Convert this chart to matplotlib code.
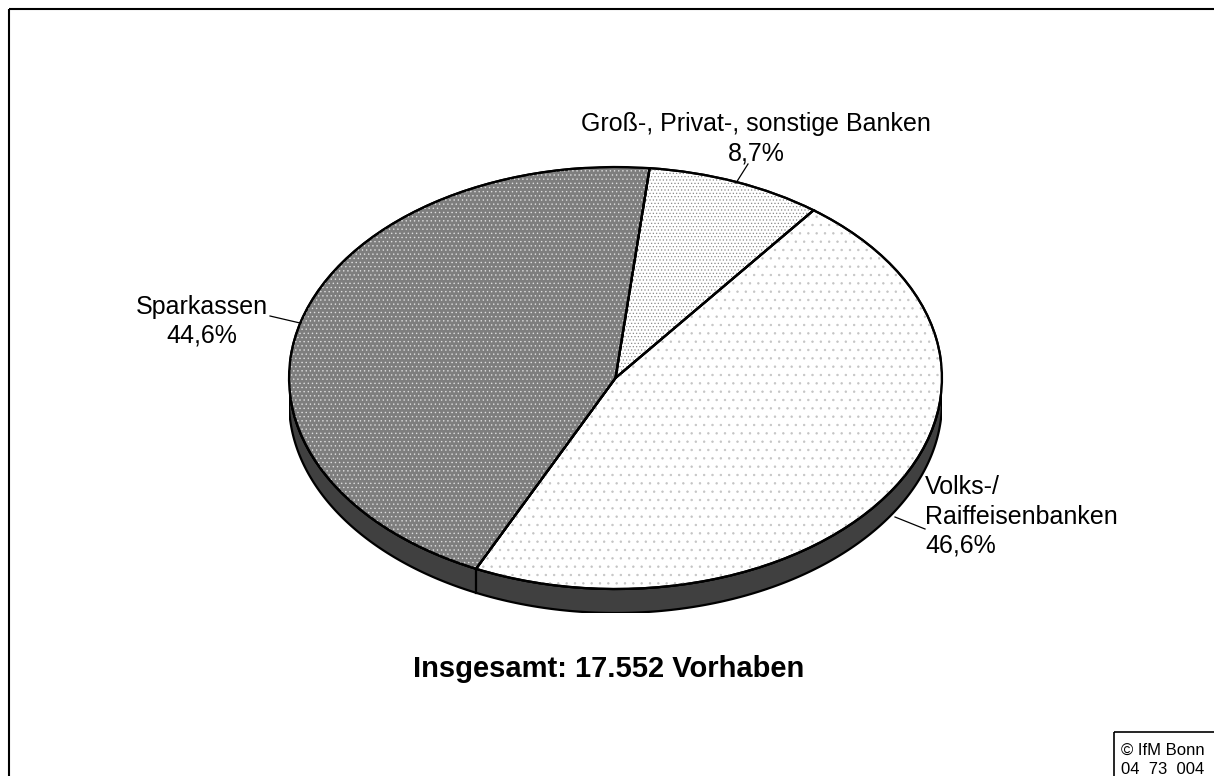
import numpy as np
import matplotlib
matplotlib.use("Agg")
import matplotlib.pyplot as plt
from matplotlib.patches import Polygon, Rectangle, Wedge

plt.rcParams['font.family'] = ['Liberation Sans', 'DejaVu Sans']
plt.rcParams['hatch.linewidth'] = 0.5

# ---- data ----
categories = ["Groß-, Privat-, sonstige Banken", "Volks-/\nRaiffeisenbanken", "Sparkassen"]
shares = [8.7, 46.6, 44.6]
share_labels = ["8,7%", "46,6%", "44,6%"]
title_text = "Insgesamt: 17.552 Vorhaben"
source_text = "© IfM Bonn\n04  73  004"

W, H = 1214, 776
fig = plt.figure(figsize=(W / 100, H / 100), dpi=100)

# pie geometry (pixels)
cx, cy, rx, ry, depth = 615.5, 378.0, 326.5, 211.0, 24.0
d = depth / ry

ax = fig.add_axes([(cx - rx) / W, (H - (cy + ry + depth)) / H, 2 * rx / W, (2 * ry + depth) / H])
ax.axis('off')

# side (visible front half)
t = np.linspace(np.pi, 2 * np.pi, 300)
top = np.column_stack([np.cos(t), np.sin(t)])
bot = np.column_stack([np.cos(t[::-1]), np.sin(t[::-1]) - d])
ax.add_patch(Polygon(np.vstack([top, bot]), closed=True, facecolor='#404040',
                     edgecolor='black', linewidth=1.6, zorder=1))

faces = ['white', 'white', '#7e7e7e']
hatch_cols = ['#8a8a8a', '#c4c4c4', '#dcdcdc']
hatches = ['.....', '..', '....']

wedges, _ = ax.pie(shares, startangle=84, counterclock=False, radius=1,
                   colors=faces, wedgeprops=dict(edgecolor='black', linewidth=1.6))
for w in wedges:
    w.set_zorder(2)
# hatch overlays
for w, hc, h in zip(wedges, hatch_cols, hatches):
    ax.add_patch(Wedge((0, 0), 1, w.theta1, w.theta2, facecolor='none',
                       edgecolor=hc, linewidth=0, hatch=h, zorder=3))
for w in wedges:
    ax.add_patch(Wedge((0, 0), 1, w.theta1, w.theta2, facecolor='none',
                       edgecolor='black', linewidth=1.6, zorder=4))

# vertical divider lines on the visible side
frac = np.cumsum([0] + shares) / sum(shares)
angs = np.deg2rad(84 - 360 * frac)
for a in angs:
    if np.sin(a) < 0:
        ax.plot([np.cos(a), np.cos(a)], [np.sin(a), np.sin(a) - d], color='black', lw=1.6, zorder=5)

ax.set_aspect('auto')
ax.set_xlim(-1, 1)
ax.set_ylim(-1 - d, 1)

# overlay in pixel coords
ov = fig.add_axes([0, 0, 1, 1], facecolor='none')
ov.set_xlim(0, W); ov.set_ylim(H, 0); ov.axis('off')

# frame
ov.add_patch(Rectangle((8.5, 8.5), W + 20, H + 20, fill=False, edgecolor='black', lw=1.5, clip_on=False))
# source box
ov.add_patch(Rectangle((1114, 732), 120, 60, fill=False, edgecolor='black', lw=1.2))

fs = 18
# Groß label
ov.text(756, 131, categories[0], ha='center', va='baseline', fontsize=fs)
ov.text(756, 160, share_labels[0], ha='center', va='baseline', fontsize=fs)
ov.plot([736, 748], [183, 164], color='black', lw=0.9)
# Sparkassen label
ov.text(202, 314, categories[2], ha='center', va='baseline', fontsize=fs)
ov.text(202, 343, share_labels[2], ha='center', va='baseline', fontsize=fs)
ov.plot([270, 300], [316, 323], color='black', lw=0.9)
# Volks label
vl = categories[1].split('\n') + [share_labels[1]]
for i, s in enumerate(vl):
    ov.text(925, 494 + 29.5 * i, s, ha='left', va='baseline', fontsize=fs)
ov.plot([895, 925], [517, 529], color='black', lw=0.9)

# title
ov.text(608.5, 677, title_text, ha='center', va='baseline', fontsize=21, fontweight='bold')

# source
for i, s in enumerate(source_text.split('\n')):
    ov.text(1121, 755 + 19 * i, s, ha='left', va='baseline', fontsize=12)

fig.savefig('out.png', dpi=100)
